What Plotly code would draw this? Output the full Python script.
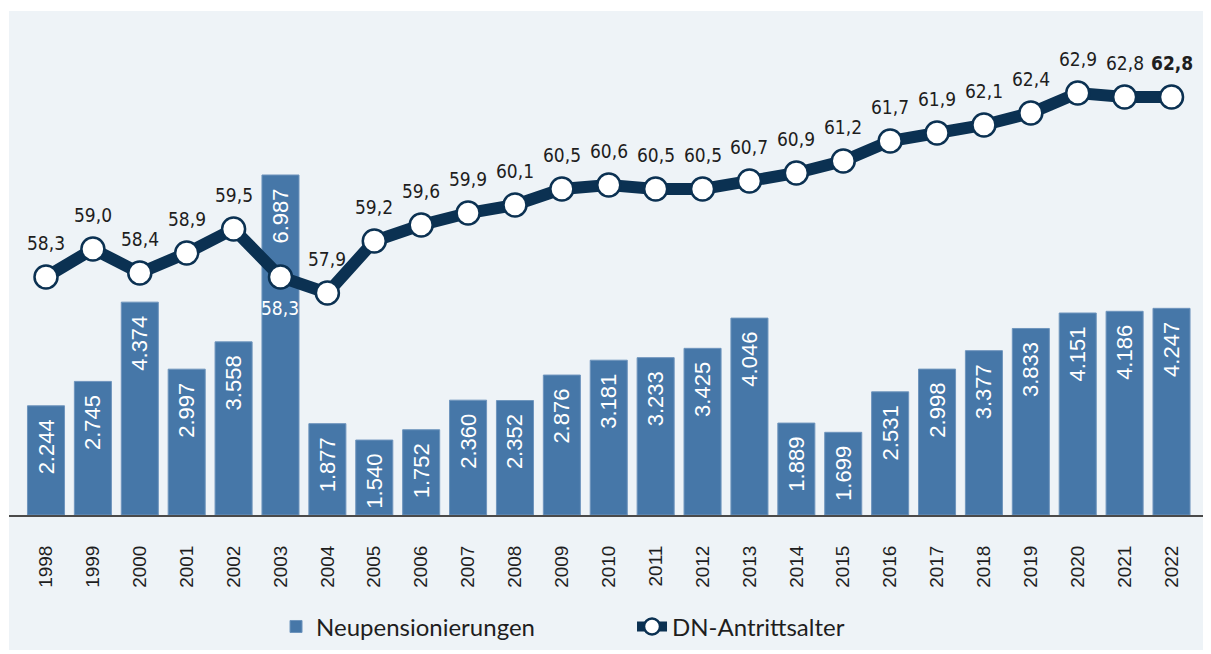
import plotly.graph_objects as go

years = [str(y) for y in range(1998, 2023)]
neupensionierungen = [2244, 2745, 4374, 2997, 3558, 6987, 1877, 1540, 1752, 2360, 2352, 2876, 3181,
                      3233, 3425, 4046, 1889, 1699, 2531, 2998, 3377, 3833, 4151, 4186, 4247]
antrittsalter = [58.3, 59.0, 58.4, 58.9, 59.5, 58.3, 57.9, 59.2, 59.6, 59.9, 60.1, 60.5, 60.6,
                 60.5, 60.5, 60.7, 60.9, 61.2, 61.7, 61.9, 62.1, 62.4, 62.9, 62.8, 62.8]

BAR = "#4677a8"
NAVY = "#0b3152"
PANEL = "#eef3f7"
TXT = "#1e1e1e"

# thousands separator as in the source; small trailing pad keeps the label off the bar top
bar_text = [f"{v:,}".replace(",", ".") + "\u00a0\u2009" for v in neupensionierungen]
age_text = [f"{v:.1f}".replace(".", ",") for v in antrittsalter]

fig = go.Figure()
fig.add_trace(go.Bar(
    x=years, y=neupensionierungen, name="Neupensionierungen",
    marker=dict(color=BAR, line=dict(width=1, color="#6f95bd")),
    text=bar_text, textposition="inside", insidetextanchor="end", textangle=-90,
    textfont=dict(color="white", size=22, family="Liberation Sans"),
    constraintext="none", cliponaxis=False,
))
fig.add_trace(go.Scatter(
    x=years, y=antrittsalter, name="DN-Antrittsalter", yaxis="y2",
    mode="lines+markers",
    line=dict(color=NAVY, width=12),
    marker=dict(size=23, color="white", line=dict(color=NAVY, width=2.5)),
    cliponaxis=False,
))

annotations = []
for i, (yr, v, t) in enumerate(zip(years, antrittsalter, age_text)):
    below = (yr == "2003")
    last = (i == len(years) - 1)
    annotations.append(dict(
        x=i, y=v, xref="x", yref="y2", showarrow=False,
        text=f"<b>{t}</b>" if last else t,
        yshift=-31 if below else 34,
        font=dict(size=19, color="white" if below else TXT,
                  family="DejaVu Sans Condensed, Liberation Sans"),
    ))

fig.update_layout(
    width=1203, height=646,
    margin=dict(l=1, r=3, t=3, b=139),
    paper_bgcolor="white", plot_bgcolor="rgba(0,0,0,0)",
    bargap=0.21,
    showlegend=True,
    legend=dict(orientation="h", x=0.2227, y=-0.222, xanchor="left", yanchor="middle",
                font=dict(size=24, color=TXT, family="Lato, Liberation Sans"),
                bgcolor="rgba(0,0,0,0)", entrywidth=311, entrywidthmode="pixels"),
    xaxis=dict(type="category", range=[-0.789, 24.778], showgrid=False, zeroline=False,
               showline=True, linecolor="#4a4a4a", linewidth=2,
               ticks="outside", ticklen=21, tickcolor="rgba(0,0,0,0)", tickangle=-90,
               tickfont=dict(size=19, color=TXT, family="Liberation Sans")),
    yaxis=dict(range=[0, 10357], visible=False, showgrid=False, zeroline=False),
    yaxis2=dict(range=[52.35, 64.95], overlaying="y", visible=False, showgrid=False, zeroline=False),
    shapes=[dict(type="rect", xref="paper", yref="paper", x0=0, x1=1, y0=-0.268, y1=1,
                 fillcolor=PANEL, line=dict(width=0), layer="below")],
    annotations=annotations,
)

fig.write_html("out.html")
